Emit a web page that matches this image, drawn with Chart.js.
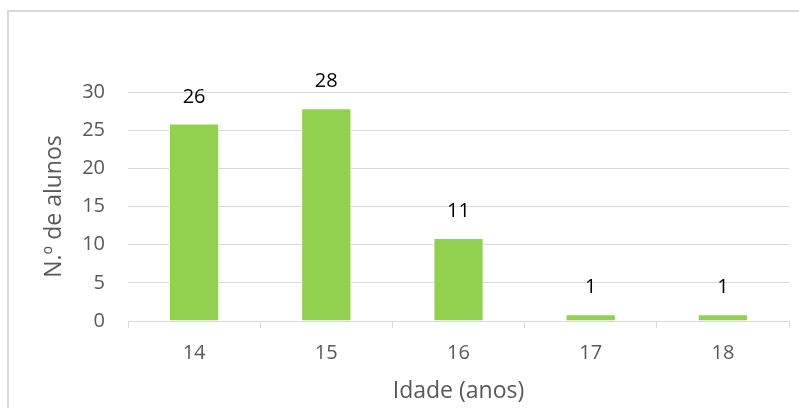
<!DOCTYPE html>
<html lang="pt">
    <head>
        <meta charset="UTF-8" />
        <title>N.º de alunos por idade</title>
        <script src="https://cdn.jsdelivr.net/npm/chart.js"></script>
        <style>
            html, body {
                margin: 0;
                padding: 0;
                background: #fff;
                overflow: hidden;
            }
            #frame {
                position: absolute;
                left: 7px;
                top: 10px;
                width: 820px;
                height: 420px;
                border-top: 2px solid #d9d9d9;
                border-left: 2px solid #d9d9d9;
            }
            #chart {
                position: absolute;
                left: 0;
                top: 0;
                width: 799px;
                height: 408px;
            }
        </style>
    </head>
    <body>
        <div id="frame"></div>
        <div id="chart">
            <canvas id="myChart"></canvas>
        </div>
        <script>
            // Data
            const idades = ["14", "15", "16", "17", "18"];
            const alunos = [26, 28, 11, 1, 1];
            const yTicks = [0, 5, 10, 15, 20, 25, 30];

            const font = "Open Sans";

            // Draws the value above each bar
            const valueLabels = {
                id: "valueLabels",
                afterDatasetsDraw(chart) {
                    const ctx = chart.ctx;
                    const meta = chart.getDatasetMeta(0);
                    ctx.save();
                    ctx.fillStyle = "#000";
                    ctx.font = "20px '" + font + "'";
                    ctx.textAlign = "center";
                    ctx.textBaseline = "alphabetic";
                    meta.data.forEach((bar, i) => {
                        ctx.fillText(String(alunos[i]), bar.x, bar.y - 20);
                    });
                    ctx.restore();
                },
            };

            const ctx = document.getElementById("myChart").getContext("2d");
            const myChart = new Chart(ctx, {
                type: "bar",
                data: {
                    labels: idades,
                    datasets: [
                        {
                            data: alunos,
                            backgroundColor: "#92d050",
                            borderColor: "#ffffff",
                            borderWidth: { top: 2, left: 1, right: 1, bottom: 0 },
                            barPercentage: 0.76,
                            categoryPercentage: 0.5,
                        },
                    ],
                },
                options: {
                    responsive: true,
                    maintainAspectRatio: false,
                    animation: false,
                    layout: {
                        padding: { left: 41, right: 10, top: 92, bottom: 3 },
                    },
                    plugins: {
                        legend: { display: false },
                        tooltip: { enabled: false },
                    },
                    scales: {
                        x: {
                            grid: {
                                offset: true,
                                drawOnChartArea: false,
                                color: "#d9d9d9",
                                tickLength: 7,
                            },
                            border: { color: "#d9d9d9", width: 1 },
                            ticks: {
                                color: "#595959",
                                font: { family: font, size: 20 },
                                padding: 13,
                            },
                            title: {
                                display: true,
                                text: "Idade (anos)",
                                color: "#595959",
                                font: { family: font, size: 23 },
                                padding: 0,
                            },
                            afterFit: (scale) => {
                                scale.height = 408 - 3 - 321;
                            },
                        },
                        y: {
                            min: 0,
                            max: 30,
                            afterBuildTicks: (scale) => {
                                scale.ticks = yTicks.map((v) => ({ value: v }));
                            },
                            grid: {
                                color: "#d9d9d9",
                                drawTicks: false,
                            },
                            border: { display: false },
                            ticks: {
                                color: "#595959",
                                font: { family: font, size: 20 },
                                padding: 23,
                            },
                            title: {
                                display: true,
                                text: "N.º de alunos",
                                color: "#595959",
                                font: { family: font, size: 23 },
                                padding: 0,
                            },
                            afterFit: (scale) => {
                                scale.width = 128 - 41;
                            },
                        },
                    },
                },
                plugins: [valueLabels],
            });
        </script>
    </body>
</html>
